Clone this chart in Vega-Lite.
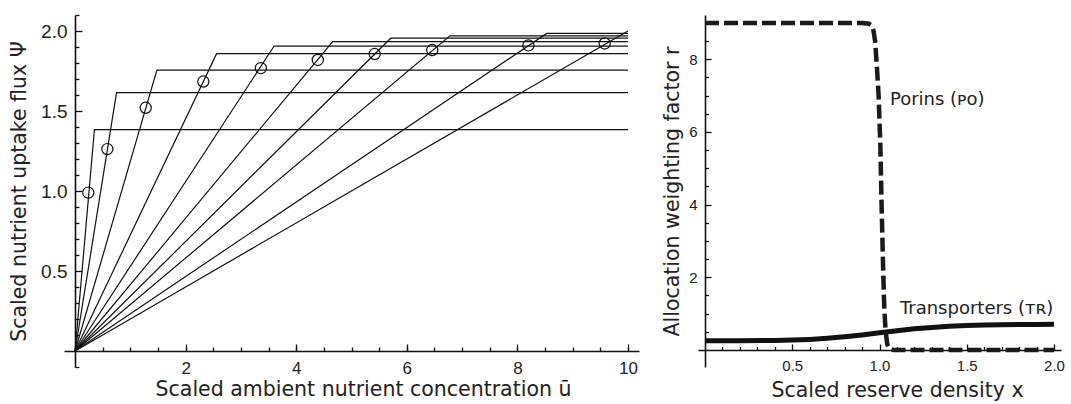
{
  "$schema": "https://vega.github.io/schema/vega-lite/v6.json",
  "padding": {"left": 9, "top": 13, "right": 5, "bottom": 0},
  "background": "white",
  "spacing": 23,
  "config": {
    "view": {"stroke": null},
    "axis": {
      "grid": false,
      "domainColor": "#111",
      "tickColor": "#111",
      "domainWidth": 1.6,
      "tickWidth": 1.3,
      "labelColor": "#222",
      "titleColor": "#222",
      "titleFont": "DejaVu Sans",
      "titleFontWeight": "normal",
      "titleFontSize": 20.5,
      "labelFont": "Liberation Sans",
      "labelFlush": false,
      "labelOverlap": false
    }
  },
  "datasets": {
    "curves": [
      {"curve": 1, "u": 0, "psi": 0}, {"curve": 1, "u": 0.35, "psi": 1.383}, {"curve": 1, "u": 10, "psi": 1.383},
      {"curve": 2, "u": 0, "psi": 0}, {"curve": 2, "u": 0.75, "psi": 1.615}, {"curve": 2, "u": 10, "psi": 1.615},
      {"curve": 3, "u": 0, "psi": 0}, {"curve": 3, "u": 1.48, "psi": 1.756}, {"curve": 3, "u": 10, "psi": 1.756},
      {"curve": 4, "u": 0, "psi": 0}, {"curve": 4, "u": 2.56, "psi": 1.858}, {"curve": 4, "u": 10, "psi": 1.858},
      {"curve": 5, "u": 0, "psi": 0}, {"curve": 5, "u": 3.6, "psi": 1.906}, {"curve": 5, "u": 10, "psi": 1.906},
      {"curve": 6, "u": 0, "psi": 0}, {"curve": 6, "u": 4.66, "psi": 1.934}, {"curve": 6, "u": 10, "psi": 1.934},
      {"curve": 7, "u": 0, "psi": 0}, {"curve": 7, "u": 5.71, "psi": 1.955}, {"curve": 7, "u": 10, "psi": 1.955},
      {"curve": 8, "u": 0, "psi": 0}, {"curve": 8, "u": 6.78, "psi": 1.97}, {"curve": 8, "u": 10, "psi": 1.97},
      {"curve": 9, "u": 0, "psi": 0}, {"curve": 9, "u": 8.53, "psi": 1.985}, {"curve": 9, "u": 10, "psi": 1.985},
      {"curve": 10, "u": 0, "psi": 0}, {"curve": 10, "u": 10, "psi": 2.0}
    ],
    "circles": [
      {"u": 0.24, "psi": 0.99},
      {"u": 0.584, "psi": 1.262},
      {"u": 1.278, "psi": 1.52},
      {"u": 2.32, "psi": 1.684},
      {"u": 3.36, "psi": 1.768},
      {"u": 4.39, "psi": 1.819},
      {"u": 5.42, "psi": 1.856},
      {"u": 6.46, "psi": 1.881},
      {"u": 8.2, "psi": 1.91},
      {"u": 9.58, "psi": 1.922}
    ],
    "porins": [
      {"x": 0, "r": 9}, {"x": 0.9, "r": 9}, {"x": 0.94, "r": 8.98}, {"x": 0.955, "r": 8.93},
      {"x": 0.965, "r": 8.8}, {"x": 0.975, "r": 8.5}, {"x": 0.985, "r": 7.8}, {"x": 0.995, "r": 7.0},
      {"x": 1.005, "r": 5.6}, {"x": 1.012, "r": 4.0}, {"x": 1.02, "r": 2.4}, {"x": 1.027, "r": 1.2},
      {"x": 1.035, "r": 0.5}, {"x": 1.045, "r": 0.15}, {"x": 1.06, "r": 0.02}, {"x": 1.08, "r": 0}, {"x": 2, "r": 0}
    ],
    "transporters": [
      {"x": 0, "r": 0.25}, {"x": 0.2, "r": 0.25}, {"x": 0.4, "r": 0.26}, {"x": 0.5, "r": 0.27},
      {"x": 0.6, "r": 0.29}, {"x": 0.7, "r": 0.32}, {"x": 0.8, "r": 0.36}, {"x": 0.9, "r": 0.41},
      {"x": 1.0, "r": 0.47}, {"x": 1.1, "r": 0.53}, {"x": 1.2, "r": 0.58}, {"x": 1.3, "r": 0.62},
      {"x": 1.4, "r": 0.65}, {"x": 1.5, "r": 0.67}, {"x": 1.6, "r": 0.685}, {"x": 1.7, "r": 0.695},
      {"x": 1.8, "r": 0.7}, {"x": 1.9, "r": 0.703}, {"x": 2.0, "r": 0.705}
    ],
    "labels": [
      {"x": 1.06, "r": 6.89, "label": "Porins (ᴘᴏ)"},
      {"x": 1.117, "r": 1.13, "label": "Transporters (ᴛʀ)"}
    ]
  },
  "hconcat": [
    {
      "width": 575,
      "height": 352,
      "resolve": {"axis": {"x": "independent", "y": "independent"}},
      "layer": [
        {
          "data": {"name": "curves"},
          "mark": {"type": "line", "color": "#111", "strokeWidth": 1.2},
          "encoding": {
            "x": {
              "field": "u", "type": "quantitative",
              "scale": {"domain": [-0.2, 10.2], "nice": false, "zero": false},
              "axis": {
                "orient": "bottom",
                "values": [0.5, 1, 1.5, 2, 2.5, 3, 3.5, 4, 4.5, 5, 5.5, 6, 6.5, 7, 7.5, 8, 8.5, 9, 9.5, 10],
                "offset": -16,
                "tickSize": -4,
                "labels": false,
                "title": null
              }
            },
            "y": {
              "field": "psi", "type": "quantitative",
              "scale": {"domain": [-0.1, 2.1], "nice": false, "zero": false},
              "axis": {
                "orient": "left",
                "values": [-0.1, 0.1, 0.2, 0.3, 0.4, 0.6, 0.7, 0.8, 0.9, 1.1, 1.2, 1.3, 1.4, 1.6, 1.7, 1.8, 1.9, 2.1],
                "offset": -11,
                "tickSize": -4,
                "labels": false,
                "title": null
              }
            },
            "detail": {"field": "curve", "type": "nominal"}
          }
        },
        {
          "data": {"name": "circles"},
          "mark": {"type": "point", "shape": "circle", "size": 125, "filled": false, "stroke": "#111", "strokeWidth": 1.2, "opacity": 1},
          "encoding": {
            "x": {
              "field": "u", "type": "quantitative",
              "axis": {
                "orient": "bottom",
                "values": [2, 4, 6, 8, 10],
                "format": "d",
                "offset": -16,
                "domain": false,
                "tickSize": -7,
                "labelOverlap": false,
                "labelFlush": false,
                "labelFontSize": 17,
                "labelPadding": 16,
                "title": "Scaled ambient nutrient concentration ū",
                "titlePadding": 3,
                "titleX": 299
              }
            },
            "y": {
              "field": "psi", "type": "quantitative",
              "axis": {
                "orient": "left",
                "values": [0.5, 1.0, 1.5, 2.0],
                "format": ".1f",
                "offset": -11,
                "domain": false,
                "tickSize": -7,
                "labelOverlap": false,
                "labelFlush": false,
                "labelFontSize": 19,
                "labelPadding": 15,
                "title": "Scaled nutrient uptake flux Ψ",
                "titlePadding": 11
              }
            }
          }
        }
      ]
    },
    {
      "width": 363,
      "height": 352,
      "resolve": {"axis": {"x": "independent", "y": "independent"}},
      "layer": [
        {
          "data": {"name": "porins"},
          "mark": {"type": "line", "color": "#1a1a1a", "strokeWidth": 4.5, "strokeDash": [14, 5]},
          "encoding": {
            "x": {
              "field": "x", "type": "quantitative",
              "scale": {"domain": [-0.04, 2.04], "nice": false, "zero": false},
              "axis": {
                "orient": "bottom",
                "values": [0.1, 0.2, 0.3, 0.4, 0.6, 0.7, 0.8, 0.9, 1.1, 1.2, 1.3, 1.4, 1.6, 1.7, 1.8, 1.9],
                "offset": -17,
                "tickSize": -3.5,
                "labels": false,
                "title": null
              }
            },
            "y": {
              "field": "r", "type": "quantitative",
              "scale": {"domain": [-0.47, 9.22], "nice": false, "zero": false},
              "axis": {
                "orient": "left",
                "values": [0.5, 1, 1.5, 2.5, 3, 3.5, 4.5, 5, 5.5, 6.5, 7, 7.5, 8.5, 9],
                "offset": -7,
                "tickSize": -3.5,
                "labels": false,
                "title": null
              }
            }
          }
        },
        {
          "data": {"name": "transporters"},
          "mark": {"type": "line", "color": "#111", "strokeWidth": 5},
          "encoding": {
            "x": {
              "field": "x", "type": "quantitative",
              "axis": {
                "orient": "bottom",
                "values": [0.5, 1.0, 1.5, 2.0],
                "format": ".1f",
                "offset": -17,
                "domain": false,
                "tickSize": -6,
                "labelOverlap": false,
                "labelFlush": false,
                "labelFontSize": 15,
                "labelPadding": 14.5,
                "title": "Scaled reserve density x",
                "titlePadding": 6.5,
                "titleX": 199
              }
            },
            "y": {
              "field": "r", "type": "quantitative",
              "axis": {
                "orient": "left",
                "values": [2, 4, 6, 8],
                "format": "d",
                "offset": -7,
                "domain": false,
                "tickSize": -6,
                "labelOverlap": false,
                "labelFlush": false,
                "labelFontSize": 15,
                "labelPadding": 14,
                "title": "Allocation weighting factor r",
                "titlePadding": 6
              }
            }
          }
        },
        {
          "data": {"name": "labels"},
          "mark": {"type": "text", "align": "left", "baseline": "middle", "font": "DejaVu Sans", "fontSize": 18, "color": "#222"},
          "encoding": {
            "x": {"field": "x", "type": "quantitative", "axis": null},
            "y": {"field": "r", "type": "quantitative", "axis": null},
            "text": {"field": "label"}
          }
        }
      ]
    }
  ]
}
